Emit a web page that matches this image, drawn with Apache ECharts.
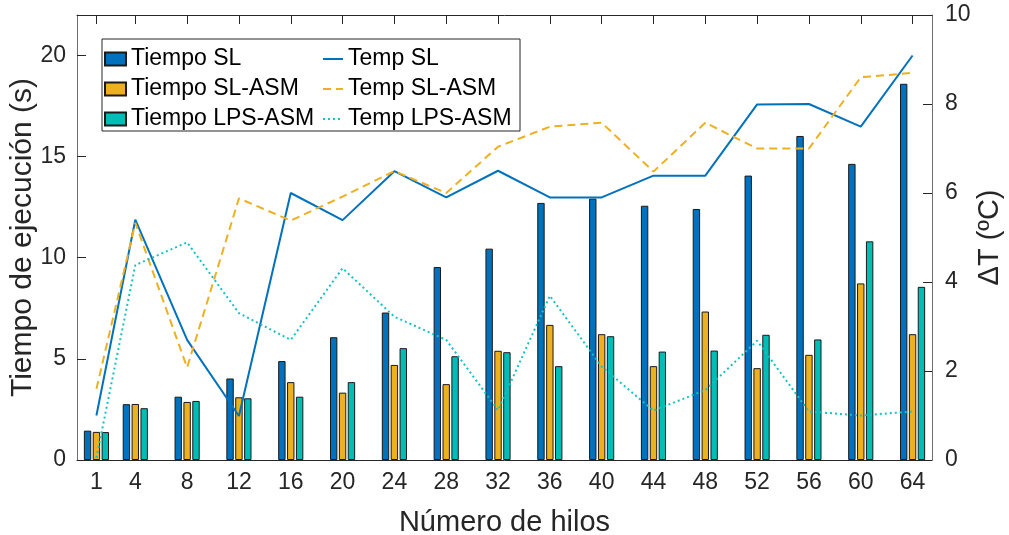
<!DOCTYPE html>
<html>
<head>
<meta charset="utf-8">
<title>Tiempo de ejecución y ΔT frente a número de hilos</title>
<script src="https://cdn.jsdelivr.net/npm/echarts@6/dist/echarts.min.js"></script>
<style>
  html, body { margin: 0; padding: 0; background: #fff; }
  #chart { width: 1009px; height: 535px; }
</style>
</head>
<body>
<div id="chart"></div>
<script>
// Number of threads (x positions, numeric axis)
const threads = [1, 4, 8, 12, 16, 20, 24, 28, 32, 36, 40, 44, 48, 52, 56, 60, 64];

// Execution times (s), left axis
const tiempoSL     = [1.45, 2.76, 3.13, 4.03, 4.89, 6.07, 7.29, 9.54, 10.45, 12.71, 12.92, 12.57, 12.41, 14.06, 16.02, 14.64, 18.60];
const tiempoSLASM  = [1.39, 2.77, 2.87, 3.10, 3.85, 3.33, 4.70, 3.75, 5.40, 6.68, 6.22, 4.64, 7.34, 4.54, 5.20, 8.73, 6.22];
const tiempoLPSASM = [1.38, 2.56, 2.92, 3.05, 3.13, 3.85, 5.53, 5.13, 5.33, 4.64, 6.12, 5.36, 5.41, 6.19, 5.96, 10.81, 8.56];

// Temperature increase (ºC), right axis
const tempSL     = [1.00, 5.40, 2.70, 0.99, 6.00, 5.39, 6.49, 5.90, 6.50, 5.90, 5.90, 6.39, 6.39, 7.99, 8.00, 7.49, 9.09];
const tempSLASM  = [1.60, 5.33, 2.08, 5.88, 5.38, 5.92, 6.49, 6.00, 7.04, 7.49, 7.58, 6.48, 7.58, 7.00, 7.00, 8.60, 8.70];
const tempLPSASM = [0.05, 4.38, 4.89, 3.30, 2.70, 4.31, 3.22, 2.70, 1.12, 3.69, 2.10, 1.11, 1.57, 2.68, 1.09, 1.00, 1.09];

// Tick labels
const leftTicks  = [0, 5, 10, 15, 20];
const rightTicks = [0, 2, 4, 6, 8, 10];

const C_BLUE = '#0072BD';
const C_YELLOW = '#EDB120';
const C_TEAL = '#00BDB8';
const C_TEAL_LINE = '#14C2C2';
const AXIS = '#262626';
const FONT = '"Liberation Sans", Arial, Helvetica, sans-serif';

const pairs = (ys) => threads.map((x, i) => [x, ys[i]]);

const barSeries = (name, ys, color) => ({
  name, type: 'bar', xAxisIndex: 0, yAxisIndex: 0,
  data: pairs(ys),
  barWidth: 7.4, barGap: '20%',
  itemStyle: { color, borderColor: '#1a1a1a', borderWidth: 1 },
  emphasis: { disabled: true },
  z: 2
});

const lineSeries = (name, ys, color, type) => ({
  name, type: 'line', xAxisIndex: 0, yAxisIndex: 1,
  data: pairs(ys),
  symbol: 'none',
  lineStyle: { color, width: 2, type },
  itemStyle: { color },
  emphasis: { disabled: true },
  z: 3
});

const tick = (values) => ({ show: true, inside: true, length: 9, customValues: values, lineStyle: { color: AXIS } });

const chart = echarts.init(document.getElementById('chart'), null, { renderer: 'canvas' });

chart.setOption({
  animation: false,
  backgroundColor: '#fff',
  textStyle: { fontFamily: FONT },
  grid: { left: 77, right: 77, top: 15, bottom: 75, containLabel: false, outerBoundsMode: 'none' },
  xAxis: [
    {
      type: 'value', position: 'bottom', min: -0.5, max: 65.5,
      name: 'Número de hilos', nameLocation: 'middle', nameGap: 48, nameMoveOverlap: false,
      nameTextStyle: { fontSize: 29, color: AXIS, fontFamily: FONT },
      axisLine: { show: true, onZero: false, lineStyle: { color: AXIS, width: 1 } },
      axisTick: tick(threads),
      axisLabel: { customValues: threads, fontSize: 23, color: AXIS, margin: 11, fontFamily: FONT },
      splitLine: { show: false }
    },
    {
      type: 'value', position: 'top', min: -0.5, max: 65.5,
      axisLine: { show: true, onZero: false, lineStyle: { color: AXIS, width: 1 } },
      axisTick: tick(threads),
      axisLabel: { show: false },
      splitLine: { show: false }
    }
  ],
  yAxis: [
    {
      type: 'value', position: 'left', min: 0, max: 22,
      name: 'Tiempo de ejecución (s)', nameLocation: 'middle', nameGap: 39, nameRotate: 90,
      nameMoveOverlap: false,
      nameTextStyle: { fontSize: 30, color: AXIS, fontFamily: FONT },
      axisLine: { show: true, onZero: false, lineStyle: { color: '#6e6e6e', width: 1 } },
      axisTick: tick(leftTicks),
      axisLabel: { customValues: leftTicks, fontSize: 23, color: AXIS, margin: 11, fontFamily: FONT },
      splitLine: { show: false }
    },
    {
      type: 'value', position: 'right', min: 0, max: 10,
      name: 'ΔT (ºC)', nameLocation: 'middle', nameGap: 43, nameRotate: 90,
      nameMoveOverlap: false,
      nameTextStyle: { fontSize: 29, color: AXIS, fontFamily: FONT },
      axisLine: { show: true, onZero: false, lineStyle: { color: '#6e6e6e', width: 1 } },
      axisTick: tick(rightTicks),
      axisLabel: { customValues: rightTicks, fontSize: 23, color: AXIS, margin: 13, fontFamily: FONT },
      splitLine: { show: false }
    }
  ],
  graphic: [
    {
      type: 'rect', z: 50, silent: true,
      shape: { x: 102, y: 39, width: 418, height: 92 },
      style: { fill: '#fff', stroke: AXIS, lineWidth: 1 }
    }
  ],
  legend: [
    {
      orient: 'vertical', left: 104, top: 47, z: 60, padding: 0,
      itemWidth: 21, itemHeight: 13, itemGap: 6,
      icon: 'rect',
      selectedMode: false,
      textStyle: { fontSize: 23, color: '#000', fontFamily: FONT, lineHeight: 24 },
      data: ['Tiempo SL', 'Tiempo SL-ASM', 'Tiempo LPS-ASM']
    },
    {
      orient: 'vertical', left: 322, top: 47, z: 60, padding: 0,
      itemWidth: 20, itemHeight: 13, itemGap: 6,
      itemStyle: { opacity: 0 },
      selectedMode: false,
      textStyle: { fontSize: 23, color: '#000', fontFamily: FONT, lineHeight: 24 },
      data: ['Temp SL', 'Temp SL-ASM', 'Temp LPS-ASM']
    }
  ],
  series: [
    barSeries('Tiempo SL', tiempoSL, C_BLUE),
    barSeries('Tiempo SL-ASM', tiempoSLASM, C_YELLOW),
    barSeries('Tiempo LPS-ASM', tiempoLPSASM, C_TEAL),
    lineSeries('Temp SL', tempSL, C_BLUE, 'solid'),
    lineSeries('Temp SL-ASM', tempSLASM, C_YELLOW, [8, 5]),
    lineSeries('Temp LPS-ASM', tempLPSASM, C_TEAL_LINE, [2, 3])
  ]
});
</script>
</body>
</html>
